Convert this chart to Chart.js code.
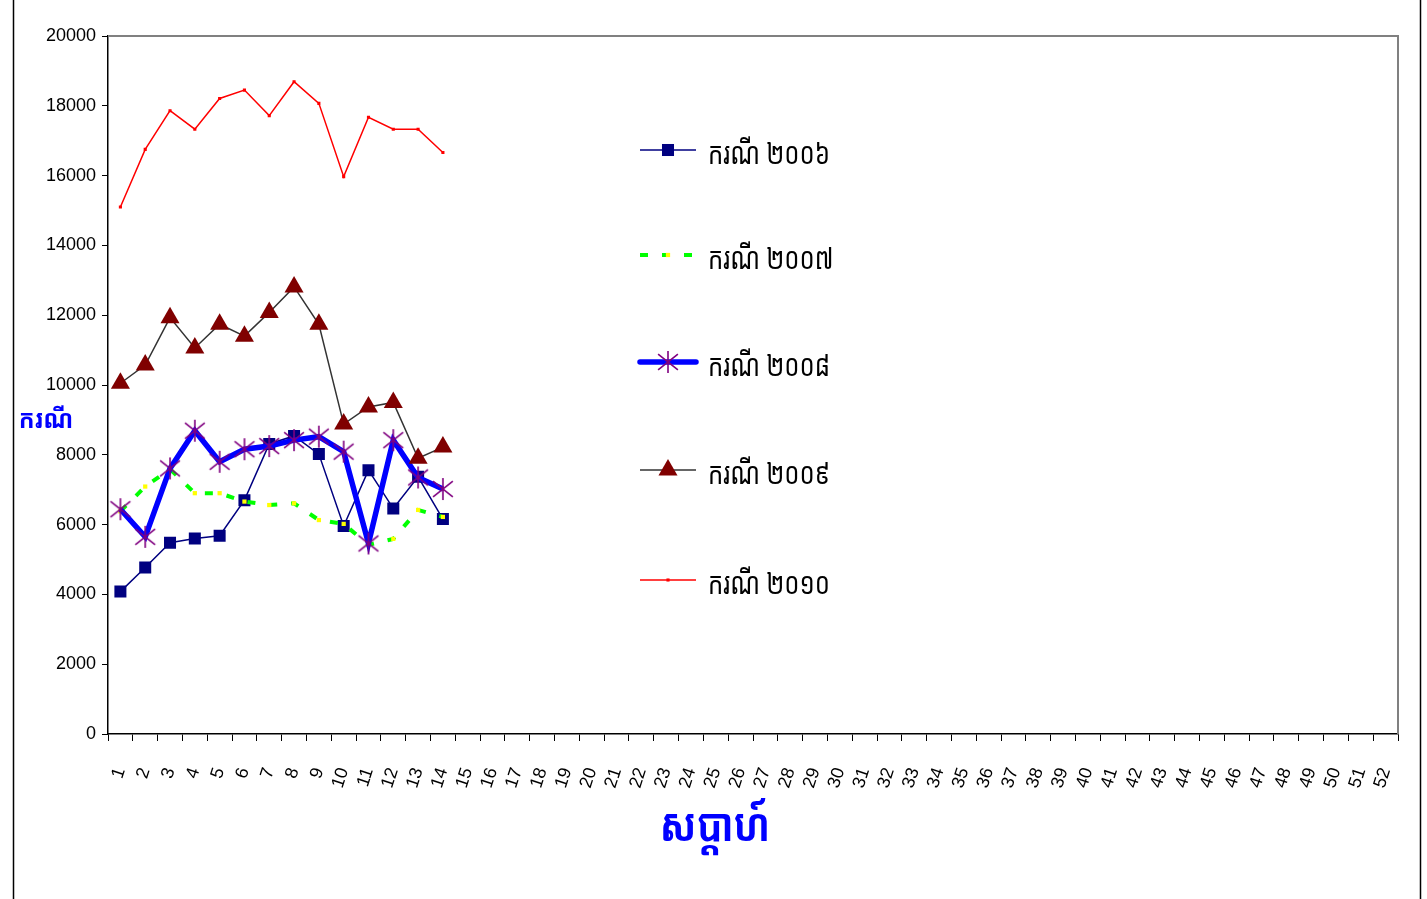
<!DOCTYPE html>
<html>
<head>
<meta charset="utf-8">
<script src="https://cdn.jsdelivr.net/npm/chart.js@4/dist/chart.umd.min.js"></script>
<style>
  html, body { margin: 0; padding: 0; background: #fff; overflow: hidden; }
  #wrap { position: relative; width: 1427px; height: 899px; }
</style>
</head>
<body>
<div id="wrap"><canvas id="c" width="1427" height="899"></canvas></div>
<script>
// Week numbers along the x axis
const weeks = ['1','2','3','4','5','6','7','8','9','10','11','12','13','14','15','16','17','18','19','20',
  '21','22','23','24','25','26','27','28','29','30','31','32','33','34','35','36','37','38','39','40',
  '41','42','43','44','45','46','47','48','49','50','51','52'];

// Weekly case counts per year (weeks 1–14)
const cases2006 = [4080, 4770, 5480, 5600, 5680, 6700, 8310, 8540, 8020, 5960, 7560, 6460, 7370, 6160];
const cases2007 = [6380, 7090, 7590, 6900, 6900, 6660, 6560, 6610, 6130, 6020, 5420, 5590, 6420, 6220];
const cases2008 = [6440, 5650, 7610, 8690, 7800, 8160, 8250, 8420, 8520, 8090, 5460, 8420, 7350, 7020];
const cases2009 = [10050, 10570, 11930, 11060, 11740, 11400, 12080, 12810, 11740, 8880, 9370, 9500, 7900, 8220];
const cases2010 = [15100, 16750, 17860, 17330, 18210, 18450, 17720, 18690, 18070, 15970, 17670, 17330, 17330, 16660];

const yTicks = { min: 0, max: 20000, step: 2000 };

const seriesNames = ['ករណី ២០០៦', 'ករណី ២០០៧', 'ករណី ២០០៨', 'ករណី ២០០៩', 'ករណី ២០១០'];
const yTitle = 'ករណី';
const xTitle = 'សប្តាហ៍';

const KHMER = '"Khmer OS", "Noto Sans Khmer", "Noto Sans", sans-serif';
const TICKFONT = '"Liberation Sans Narrow", "Arial Narrow", "Liberation Sans", Arial, sans-serif';

// Asterisk marker (vertical bar plus two diagonals)
function makeAsterisk(size, color, lw) {
  const cv = document.createElement('canvas');
  cv.width = size; cv.height = size;
  const g = cv.getContext('2d');
  g.strokeStyle = color; g.lineWidth = lw;
  const c = size / 2, r = size / 2 - 1;
  g.beginPath();
  g.moveTo(c, c - r); g.lineTo(c, c + r);
  g.moveTo(c - r * 0.9, c - r * 0.72); g.lineTo(c + r * 0.9, c + r * 0.72);
  g.moveTo(c - r * 0.9, c + r * 0.72); g.lineTo(c + r * 0.9, c - r * 0.72);
  g.stroke();
  return cv;
}
const asterisk = makeAsterisk(24, '#800080', 1.6);

const datasets = [
  { label: seriesNames[0], data: cases2006, borderColor: '#000080', borderWidth: 1.5,
    pointStyle: 'rect', pointRadius: 8.5, pointBackgroundColor: '#000080', pointBorderColor: '#000080', pointBorderWidth: 0 },
  { label: seriesNames[1], data: cases2007, borderColor: '#00FF00', borderWidth: 4, borderDash: [8, 14],
    pointStyle: 'rect', pointRadius: 3, pointBackgroundColor: '#FFFF00', pointBorderColor: '#FFFF00', pointBorderWidth: 0 },
  { label: seriesNames[2], data: cases2008, borderColor: '#0000FF', borderWidth: 5.5,
    pointStyle: asterisk, pointRadius: 12, pointBackgroundColor: '#800080', pointBorderColor: '#800080' },
  { label: seriesNames[3], data: cases2009, borderColor: '#333333', borderWidth: 1.5,
    pointStyle: 'triangle', pointRadius: 11, pointBackgroundColor: '#800000', pointBorderColor: '#800000', pointBorderWidth: 0 },
  { label: seriesNames[4], data: cases2010, borderColor: '#FF0000', borderWidth: 1.5,
    pointStyle: 'rect', pointRadius: 2.2, pointBackgroundColor: '#FF0000', pointBorderColor: '#FF0000', pointBorderWidth: 0 }
];
datasets.forEach((d, i) => {
  d.order = datasets.length - 1 - i;
  d.tension = 0;
  d.fill = false;
  d.borderCapStyle = 'butt';
  d.pointHoverRadius = d.pointRadius;
});

// Legend rows: vertical centres
const legendRows = [150, 255, 362, 470, 580];

function drawMarker(ctx, ds, x, y) {
  const st = ds.pointStyle, r = ds.pointRadius;
  ctx.save();
  ctx.fillStyle = ds.pointBackgroundColor;
  if (st === 'rect') {
    const s = Math.SQRT1_2 * r;
    ctx.fillRect(x - s, y - s, 2 * s, 2 * s);
  } else if (st === 'triangle') {
    ctx.beginPath();
    ctx.moveTo(x, y - r);
    ctx.lineTo(x + Math.sin(Math.PI * 2 / 3) * r, y - Math.cos(Math.PI * 2 / 3) * r);
    ctx.lineTo(x + Math.sin(Math.PI * 4 / 3) * r, y - Math.cos(Math.PI * 4 / 3) * r);
    ctx.closePath();
    ctx.fill();
  } else if (st instanceof HTMLCanvasElement) {
    ctx.drawImage(st, x - st.width / 2, y - st.height / 2);
  }
  ctx.restore();
}

// Text squeezed horizontally (condensed Khmer lettering)
function squeezedText(ctx, text, x, y, sx, align) {
  ctx.save();
  ctx.translate(x, y);
  ctx.scale(sx, 1);
  ctx.textAlign = align;
  ctx.fillText(text, 0, 0);
  ctx.restore();
}

const decor = {
  id: 'decor',
  beforeDraw(chart) {
    const ctx = chart.ctx;
    ctx.save();
    ctx.fillStyle = '#fff';
    ctx.fillRect(0, 0, chart.width, chart.height);
    ctx.restore();
  },
  afterDraw(chart) {
    const ctx = chart.ctx, a = chart.chartArea;
    ctx.save();
    // outer frame sides
    ctx.strokeStyle = '#000';
    ctx.lineWidth = 1.5;
    ctx.beginPath();
    ctx.moveTo(13.5, 0); ctx.lineTo(13.5, chart.height);
    ctx.moveTo(1420.5, 0); ctx.lineTo(1420.5, chart.height);
    ctx.stroke();
    // plot area top/right border
    ctx.strokeStyle = '#808080';
    ctx.lineWidth = 2;
    ctx.beginPath();
    ctx.moveTo(a.left, a.top); ctx.lineTo(a.right, a.top); ctx.lineTo(a.right, a.bottom);
    ctx.stroke();
    // axis titles
    ctx.fillStyle = '#0000FF';
    ctx.textBaseline = 'middle';
    ctx.font = 'bold 26px ' + KHMER;
    squeezedText(ctx, yTitle, 46, 421, 0.9, 'center');
    ctx.font = 'bold 46px ' + KHMER;
    squeezedText(ctx, xTitle, 715, 828, 0.82, 'center');
    // legend
    chart.data.datasets.forEach((ds, i) => {
      const y = legendRows[i];
      ctx.save();
      ctx.strokeStyle = ds.borderColor;
      ctx.lineWidth = ds.borderWidth;
      ctx.lineCap = i === 2 ? 'round' : 'butt';
      ctx.setLineDash(ds.borderDash || []);
      ctx.beginPath();
      ctx.moveTo(640, y); ctx.lineTo(696, y);
      ctx.stroke();
      ctx.restore();
      drawMarker(ctx, ds, 668, y);
      ctx.fillStyle = '#000';
      ctx.textBaseline = 'middle';
      ctx.font = '30px ' + KHMER;
      squeezedText(ctx, ds.label, 708, y + 5, 0.8, 'left');
    });
    ctx.restore();
  }
};

new Chart(document.getElementById('c'), {
  type: 'line',
  data: { labels: weeks, datasets },
  plugins: [decor],
  options: {
    responsive: false,
    animation: false,
    devicePixelRatio: 1,
    layout: { padding: { left: 0, right: 29, top: 36, bottom: 0 } },
    plugins: { legend: { display: false }, tooltip: { enabled: false }, title: { display: false } },
    scales: {
      x: {
        type: 'category',
        offset: true,
        afterFit(scale) {
          scale.height = 165;
          scale.paddingLeft = 0;
          scale.paddingRight = 0;
        },
        grid: { display: true, offset: true, drawOnChartArea: false, drawTicks: true, tickLength: 7, color: '#000', lineWidth: 1 },
        border: { display: true, color: '#000', width: 1.5 },
        ticks: {
          autoSkip: false, maxRotation: 72, minRotation: 72, padding: 24,
          color: '#000', font: { family: TICKFONT, size: 18 }
        }
      },
      y: {
        min: yTicks.min, max: yTicks.max,
        afterFit(scale) { scale.width = 108; },
        grid: { display: true, drawOnChartArea: false, drawTicks: true, tickLength: 6, color: '#000', lineWidth: 1 },
        border: { display: true, color: '#000', width: 1.5 },
        ticks: {
          stepSize: yTicks.step, padding: 6, color: '#000',
          font: { family: TICKFONT, size: 18 },
          callback: (v) => String(v)
        }
      }
    }
  }
});
</script>
</body>
</html>
